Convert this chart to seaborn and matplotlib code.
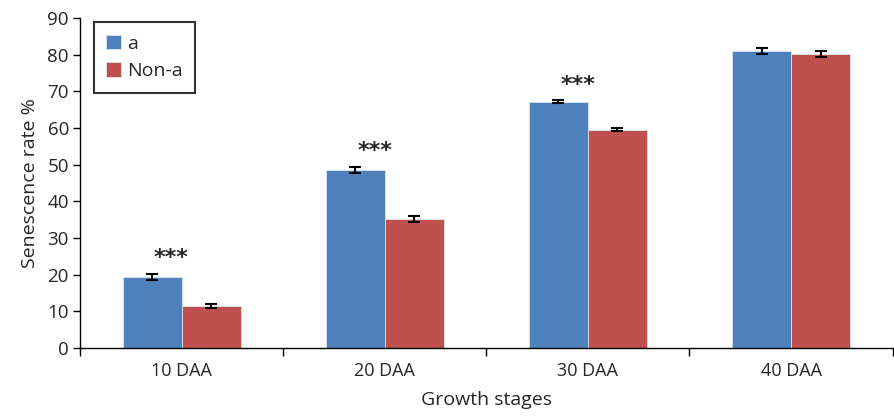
import pandas as pd
import matplotlib.pyplot as plt
import seaborn as sns
import numpy as np

# Values
stages = ['10 DAA', '20 DAA', '30 DAA', '40 DAA']
groups = ['a', 'Non-a']
a_values = [19.4, 48.6, 67.2, 81.0]
non_a_values = [11.4, 35.2, 59.5, 80.1]
a_err = [0.8, 0.8, 0.4, 0.7]
non_a_err = [0.5, 0.7, 0.4, 0.8]
significance = ['***', '***', '***', '']

df = pd.DataFrame({
    'Stage': stages * 2,
    'Group': ['a'] * 4 + ['Non-a'] * 4,
    'Value': a_values + non_a_values,
    'Err': a_err + non_a_err,
})

sns.set_style('white')
plt.rcParams['font.family'] = ['Open Sans', 'DejaVu Sans']

fig = plt.figure(figsize=(8.94, 4.2), dpi=100)
ax = fig.add_axes([0.0895, 0.1714, 0.909, 0.7857])

palette = {'a': '#4F81BD', 'Non-a': '#C0504D'}
sns.barplot(data=df, x='Stage', y='Value', hue='Group', palette=palette,
            width=0.58, errorbar=None, edgecolor='#dce6f2', linewidth=0.6,
            saturation=1, ax=ax)

# error bars at the bar centres that seaborn placed
for container, grp in zip(ax.containers, groups):
    sub = df[df['Group'] == grp]
    xs = [p.get_x() + p.get_width() / 2 for p in container.patches]
    ax.errorbar(xs, sub['Value'], yerr=sub['Err'], fmt='none', ecolor='black',
                elinewidth=1.5, capsize=4, capthick=1.5, zorder=5)

# significance stars
for i, s in enumerate(significance):
    if s:
        top = max(a_values[i] + a_err[i], non_a_values[i] + non_a_err[i])
        ax.text(i - 0.05, top + 1.5, s, ha='center', va='bottom',
                fontsize=16, fontweight='bold', family='DejaVu Sans')

ax.set_ylim(0, 90)
ax.set_xlim(-0.5, 3.5)
ax.set_yticks(np.arange(0, 91, 10))
ax.tick_params(axis='y', which='major', direction='out', length=5, width=1,
               labelsize=13.5, left=True, color='black', pad=3)
ax.set_xticks(range(len(stages)))
ax.set_xticklabels(stages, fontsize=13)
ax.tick_params(axis='x', which='major', length=0, pad=10)
ax.set_xticks(np.arange(-0.5, 3.6, 1), minor=True)
ax.tick_params(axis='x', which='minor', direction='out', length=6, width=1,
               bottom=True, color='black')

for side in ['top', 'right']:
    ax.spines[side].set_visible(False)
for side in ['left', 'bottom']:
    ax.spines[side].set_color('black')
    ax.spines[side].set_linewidth(1)

ax.set_xlabel('Growth stages', fontsize=14, labelpad=8)
ax.set_ylabel('Senescence rate %', fontsize=14, labelpad=6)

leg = ax.legend(loc='upper left', bbox_to_anchor=(0.017, 0.988), fontsize=14,
                frameon=True, fancybox=False, edgecolor='black',
                handlelength=0.75, handleheight=0.75, handletextpad=0.3,
                labelspacing=0.5, borderpad=0.65, borderaxespad=0)
leg.get_frame().set_linewidth(1.5)
leg.set_title(None)

plt.savefig('out.png', dpi=100)
